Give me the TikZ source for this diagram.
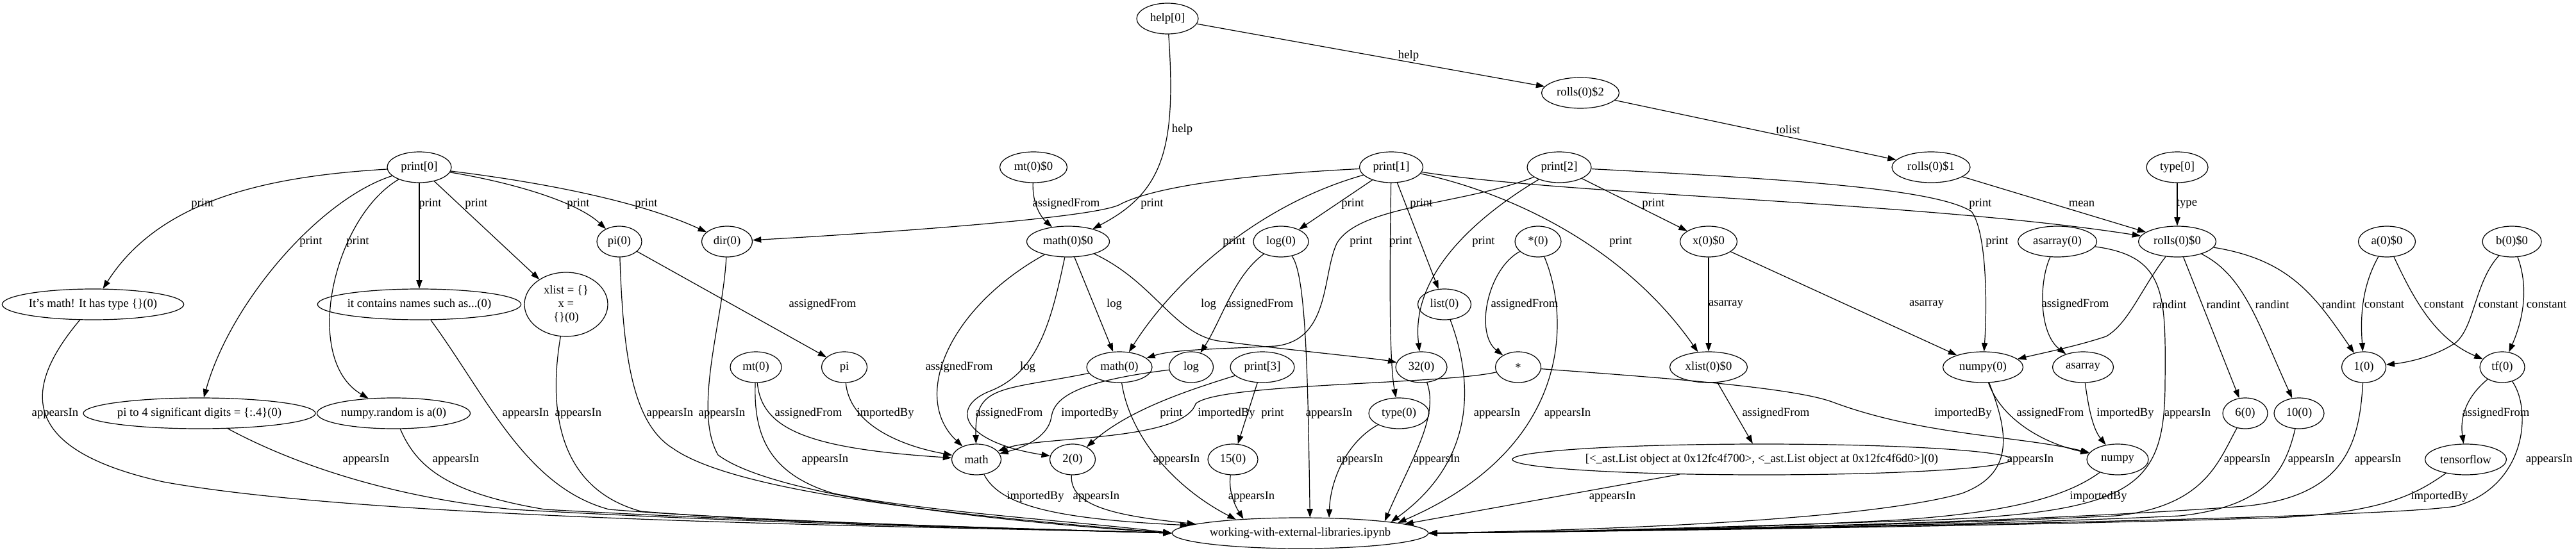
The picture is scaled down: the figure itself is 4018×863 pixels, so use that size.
\documentclass[tikz,border=0pt]{standalone}
\usepackage{fontspec}
\setmainfont{Liberation Serif}
\usetikzlibrary{arrows.meta,shapes.geometric}
\begin{document}
\begin{tikzpicture}[x=0.75pt,y=-0.75pt,
  nd/.style={draw,ellipse,line width=0.9pt,minimum height=36pt,inner sep=0pt,font=\fontsize{14pt}{16pt}\selectfont},
  nw/.style={minimum width=#1*0.75pt},
  lb/.style={inner sep=0pt,font=\fontsize{14pt}{16pt}\selectfont},
  ed/.style={line width=0.9pt,-{Triangle[length=10pt,width=7pt]}},
]
\useasboundingbox (0,0) rectangle (4018,863);
% nodes
\node[nd,nw=96] (help0) at (1821,29) {help[0]};
\node[nd,nw=121] (rolls2) at (2465,145) {rolls(0)\$2};
\node[nd,nw=105] (mt00) at (1612,261) {mt(0)\$0};
\node[nd,nw=100] (print0) at (654,261) {print[0]};
\node[nd,nw=99] (print1) at (2170,261) {print[1]};
\node[nd,nw=100] (print2) at (2432,261) {print[2]};
\node[nd,nw=122] (rolls1) at (3012,261) {rolls(0)\$1};
\node[nd,nw=96] (type0) at (3396,261) {type[0]};
\node[nd,nw=79] (dir0) at (1134,377) {dir(0)};
\node[nd,nw=70] (pi0) at (966,377) {pi(0)};
\node[nd,nw=129] (math00) at (1666,377) {math(0)\$0};
\node[nd,nw=86] (log0) at (1998,377) {log(0)};
\node[nd,nw=72] (star0) at (2399,377) {*(0)};
\node[nd,nw=89] (x00) at (2665,377) {x(0)\$0};
\node[nd,nw=123] (asarray0) at (3209,377) {asarray(0)};
\node[nd,nw=121] (rolls0) at (3396,377) {rolls(0)\$0};
\node[nd,nw=89] (a00) at (3723,377) {a(0)\$0};
\node[nd,nw=92] (b00) at (3918,377) {b(0)\$0};
\node[nd,nw=281] (itsmath) at (145,475) {It's math! It has type \{\}(0)};
\node[nd,nw=315] (contains) at (654,475) {it contains names such as...(0)};
\node[nd,nw=130,minimum height=75pt,align=center] (xlistq) at (883,475) {xlist = \{\}\\x =\\\{\}(0)};
\node[nd,nw=83] (list0) at (2253,475) {list(0)};
\node[nd,nw=80] (mt0) at (1179,573) {mt(0)};
\node[nd,nw=71] (pinode) at (1317,573) {pi};
\node[nd,nw=102] (math0) at (1746,573) {math(0)};
\node[nd,nw=69] (lognode) at (1858,573) {log};
\node[nd,nw=100] (print3) at (1969,573) {print[3]};
\node[nd,nw=80] (n32) at (2217,573) {32(0)};
\node[nd,nw=71] (star) at (2368,573) {*};
\node[nd,nw=121] (xlist00) at (2665,573) {xlist(0)\$0};
\node[nd,nw=125] (numpy0) at (3093,573) {numpy(0)};
\node[nd,nw=95] (asarray) at (3249,573) {asarray};
\node[nd,nw=69] (one0) at (3687,573) {1(0)};
\node[nd,nw=70] (tf0) at (3903,573) {tf(0)};
\node[nd,nw=356] (pito4) at (311,645) {pi to 4 significant digits = \{:.4\}(0)};
\node[nd,nw=239] (nprandom) at (614,645) {numpy.random is a(0)};
\node[nd,nw=94] (typezero) at (2182,645) {type(0)};
\node[nd,nw=70] (six0) at (3502,645) {6(0)};
\node[nd,nw=78] (ten0) at (3586,645) {10(0)};
\node[nd,nw=77] (mathnode) at (1523,717) {math};
\node[nd,nw=71] (two0) at (1673,717) {2(0)};
\node[nd,nw=78] (fifteen0) at (1923,717) {15(0)};
\node[nd,nw=731] (astlist) at (2748,717) {[<\_ast.List object at 0x12fc4f700>, <\_ast.List object at 0x12fc4f6d0>](0)};
\node[nd,nw=96] (numpy) at (3303,717) {numpy};
\node[nd,nw=127] (tensorflow) at (3846,717) {tensorflow};
\node[nd,nw=399] (nb) at (2028,832) {working-with-external-libraries.ipynb};
% top edges
\draw[ed] (help0) -- (rolls2);
\draw[ed] (rolls2) -- (rolls1);
\draw[ed] (help0) .. controls (1835,230) and (1815,300) .. (math00);
\draw[ed] (mt00) .. controls (1610,320) and (1625,340) .. (math00);
\draw[ed] (rolls1) -- (rolls0);
\draw[ed] (type0) -- (rolls0);
% print[0]
\draw[ed] (print0) .. controls (420,275) and (250,310) .. (itsmath);
\draw[ed] (print0) .. controls (500,310) and (360,470) .. (pito4);
\draw[ed] (print0) .. controls (520,340) and (470,560) .. (nprandom);
\draw[ed] (print0) -- (contains);
\draw[ed] (print0) -- (xlistq);
\draw[ed] (print0) .. controls (800,285) and (900,315) .. (pi0);
\draw[ed] (print0) .. controls (850,285) and (1000,315) .. (dir0);
% print[1]
\draw[ed] (print1) .. controls (1950,272) and (1800,290) .. (1745,320) .. controls (1700,340) and (1400,362) .. (dir0);
\draw[ed] (print1) .. controls (1960,320) and (1830,440) .. (math0);
\draw[ed] (print1) -- (log0);
\draw[ed] (print1) .. controls (2168,400) and (2166,560) .. (typezero);
\draw[ed] (print1) -- (list0);
\draw[ed] (print1) .. controls (2350,300) and (2530,380) .. (xlist00);
\draw[ed] (print1) .. controls (2450,305) and (3000,315) .. (rolls0);
% print[2]
\draw[ed] (print2) -- (x00);
\draw[ed] (print2) .. controls (2300,340) and (2200,430) .. (n32);
\draw[ed] (print2) .. controls (2280,320) and (2120,320) .. (2085,380) .. controls (2062,430) and (2075,530) .. (1990,540) .. controls (1900,545) and (1830,545) .. (math0);
\draw[ed] (print2) .. controls (2800,280) and (3020,295) .. (3075,330) .. controls (3098,360) and (3100,470) .. (numpy0);
% print[3]
\draw[ed] (print3) .. controls (1850,610) and (1760,640) .. (two0);
\draw[ed] (print3) -- (fifteen0);
% math(0)$0
\draw[ed] (math00) .. controls (1480,480) and (1420,620) .. (mathnode);
\draw[ed] (math00) .. controls (1640,500) and (1620,580) .. (1545,610) .. controls (1480,635) and (1500,690) .. (two0);
\draw[ed] (math00) -- (math0);
\draw[ed] (math00) .. controls (1800,440) and (1830,520) .. (1900,532) .. controls (2000,545) and (2150,560) .. (n32);
\draw[ed] (log0) .. controls (1925,430) and (1905,500) .. (lognode);
\draw[ed] (pi0) -- (pinode);
% into math
\draw[ed] (mt0) .. controls (1188,670) and (1260,700) .. (mathnode);
\draw[ed] (pinode) .. controls (1325,660) and (1400,695) .. (mathnode);
\draw[ed] (math0) .. controls (1560,610) and (1520,600) .. (mathnode);
\draw[ed] (lognode) .. controls (1680,595) and (1645,620) .. (1640,650) .. controls (1635,685) and (1590,700) .. (mathnode);
\draw[ed] (star) .. controls (2250,600) and (1900,598) .. (1865,630) .. controls (1845,690) and (1620,680) .. (mathnode);
% middle right
\draw[ed] (star0) .. controls (2320,420) and (2300,520) .. (star);
\draw[ed] (x00) -- (xlist00);
\draw[ed] (x00) -- (numpy0);
\draw[ed] (xlist00) -- (astlist);
\draw[ed] (star) .. controls (2600,590) and (2800,605) .. (2860,628) .. controls (3000,680) and (3150,680) .. (numpy);
\draw[ed] (numpy0) .. controls (3120,650) and (3180,690) .. (numpy);
\draw[ed] (asarray0) .. controls (3180,440) and (3180,520) .. (asarray);
\draw[ed] (asarray) .. controls (3258,640) and (3265,670) .. (numpy);
\draw[ed] (rolls0) .. controls (3340,450) and (3320,505) .. (3285,525) .. controls (3240,540) and (3190,550) .. (numpy0);
\draw[ed] (rolls0) -- (six0);
\draw[ed] (rolls0) .. controls (3500,430) and (3520,500) .. (ten0);
\draw[ed] (rolls0) .. controls (3570,405) and (3610,460) .. (one0);
\draw[ed] (a00) .. controls (3682,450) and (3682,500) .. (one0);
\draw[ed] (a00) .. controls (3766,470) and (3800,530) .. (tf0);
\draw[ed] (b00) .. controls (3860,440) and (3860,510) .. (3830,535) .. controls (3800,555) and (3760,565) .. (one0);
\draw[ed] (b00) .. controls (3945,450) and (3935,500) .. (tf0);
\draw[ed] (tf0) .. controls (3840,625) and (3838,660) .. (tensorflow);
% into notebook, left bundle
\draw[ed] (itsmath) .. controls (40,600) and (20,700) .. (255,752) .. controls (600,815) and (1500,822) .. (nb.west);
\draw[ed] (pito4) .. controls (450,720) and (600,775) .. (800,795) .. controls (1200,818) and (1600,825) .. (nb.west);
\draw[ed] (nprandom) .. controls (650,730) and (700,770) .. (850,795) .. controls (1200,815) and (1600,825) .. (nb.west);
\draw[ed] (contains) .. controls (760,620) and (820,760) .. (950,795) .. controls (1200,815) and (1600,825) .. (nb.west);
\draw[ed] (xlistq) .. controls (858,620) and (860,760) .. (1000,798) .. controls (1200,815) and (1600,825) .. (nb.west);
\draw[ed] (pi0) .. controls (972,550) and (985,660) .. (1050,700) .. controls (1150,770) and (1500,805) .. (nb.west);
\draw[ed] (dir0) .. controls (1128,500) and (1080,640) .. (1120,710) .. controls (1200,770) and (1500,810) .. (nb.west);
\draw[ed] (mt0) .. controls (1175,680) and (1200,740) .. (1300,770) .. controls (1450,800) and (1700,815) .. (nb.west);
\draw[ed] (mathnode) .. controls (1560,790) and (1650,810) .. (nb.176);
\draw[ed] (two0) .. controls (1668,790) and (1740,805) .. (nb.175);
\draw[ed] (math0) .. controls (1762,680) and (1830,760) .. (nb.168);
\draw[ed] (fifteen0) .. controls (1915,770) and (1930,795) .. (nb.166);
% into notebook, top
\draw[ed] (log0) .. controls (2038,430) and (2040,600) .. (nb.58);
\draw[ed] (typezero) .. controls (2100,690) and (2075,750) .. (nb.28);
\draw[ed] (n32) .. controls (2245,650) and (2200,720) .. (nb.8);
\draw[ed] (list0) .. controls (2300,600) and (2300,720) .. (nb.7);
\draw[ed] (star0) .. controls (2450,500) and (2450,700) .. (nb.6);
\draw[ed] (astlist) -- (nb.5);
% into notebook, right bundle
\draw[ed] (numpy0) .. controls (3135,680) and (3140,740) .. (3060,770) .. controls (2900,815) and (2450,828) .. (nb.east);
\draw[ed] (numpy) .. controls (3230,770) and (3150,800) .. (2950,812) .. controls (2700,825) and (2450,830) .. (nb.east);
\draw[ed] (asarray0) .. controls (3380,400) and (3378,460) .. (3377,600) .. controls (3376,760) and (3330,800) .. (3000,812) .. controls (2700,822) and (2450,830) .. (nb.east);
\draw[ed] (six0) .. controls (3460,720) and (3440,790) .. (3300,805) .. controls (3000,820) and (2450,830) .. (nb.east);
\draw[ed] (ten0) .. controls (3565,730) and (3540,790) .. (3400,805) .. controls (3100,820) and (2450,830) .. (nb.east);
\draw[ed] (one0) .. controls (3680,690) and (3660,775) .. (3500,790) .. controls (3100,820) and (2450,830) .. (nb.east);
\draw[ed] (tensorflow) .. controls (3770,770) and (3720,800) .. (3550,808) .. controls (3100,822) and (2450,830) .. (nb.east);
\draw[ed] (tf0) .. controls (3950,640) and (3940,760) .. (3830,790) .. controls (3700,812) and (2450,830) .. (nb.east);
% edge labels
\foreach \px/\py/\tx [count=\i] in {
 2197/87/help, 2789/202/tolist, 1844/202/help, 1663/318/assignedFrom, 3247/318/mean, 3411/318/type,
 316/318/print, 485/377/print, 558/377/print, 671/318/print, 743/318/print, 902/318/print, 1008/318/print,
 1797/318/print, 1925/377/print, 2110/318/print, 2185/377/print, 2217/318/print, 2528/377/print, 3089/318/print,
 2579/318/print, 2314/377/print, 2123/377/print, 3115/377/print, 1827/645/print, 1985/645/print,
 1496/573/assignedFrom, 1603/573/log, 1738/475/log, 1885/475/log, 1965/475/assignedFrom, 1283/475/assignedFrom,
 1261/645/assignedFrom, 1381/645/importedBy, 1574/645/assignedFrom, 1700/645/importedBy, 1913/645/importedBy,
 2378/475/assignedFrom, 2692/475/asarray, 3005/475/asarray, 2770/645/assignedFrom, 3062/645/importedBy,
 3198/645/assignedFrom, 3237/475/assignedFrom, 3315/645/importedBy,
 3384/475/randint, 3468/475/randint, 3544/475/randint, 3648/475/randint,
 3719/475/constant, 3812/475/constant, 3897/475/constant, 3972/475/constant, 3893/645/assignedFrom,
 86/645/appearsIn, 571/717/appearsIn, 711/717/appearsIn, 820/645/appearsIn, 902/645/appearsIn, 1045/645/appearsIn,
 1126/645/appearsIn, 1287/717/appearsIn, 1835/717/appearsIn, 1710/775/appearsIn, 1952/775/appearsIn,
 2073/645/appearsIn, 2121/717/appearsIn, 2241/717/appearsIn, 2335/645/appearsIn, 2445/645/appearsIn,
 2515/775/appearsIn, 3167/717/appearsIn, 3412/645/appearsIn, 3505/717/appearsIn, 3605/717/appearsIn,
 3709/717/appearsIn, 3976/717/appearsIn, 1615/775/importedBy, 3273/775/importedBy, 3805/775/importedBy}
 {\node[lb] (lab\i) at (\px,\py) {\tx};}
\end{tikzpicture}
\end{document}
